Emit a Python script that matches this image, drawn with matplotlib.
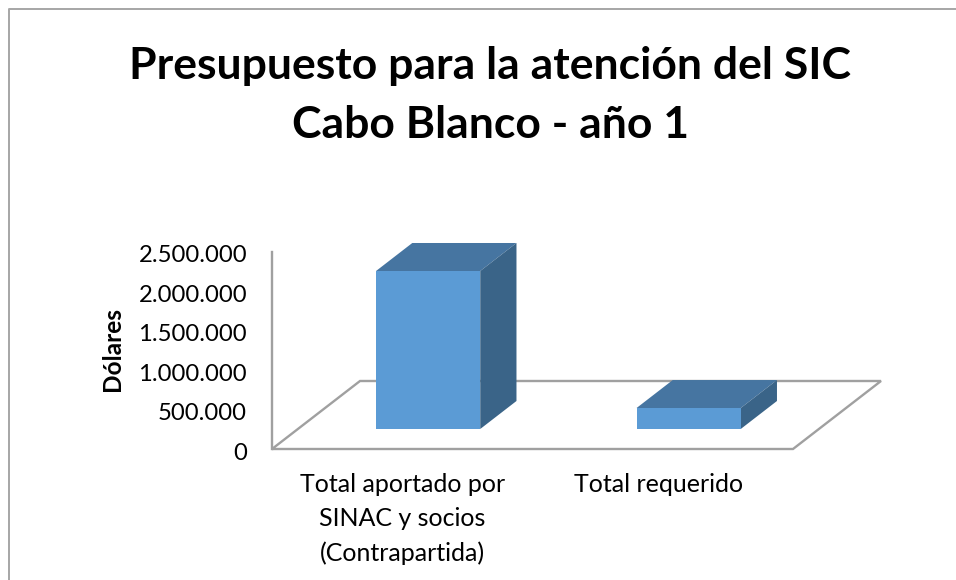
import matplotlib
matplotlib.use("Agg")
from matplotlib import pyplot as plt
from matplotlib.patches import Polygon, Rectangle
from matplotlib.transforms import ScaledTranslation

categorias = ["Total aportado por\nSINAC y socios\n(Contrapartida)", "Total requerido"]
valores = [2005000, 266000]
ticks_y = [0, 500000, 1000000, 1500000, 2000000, 2500000]
ticks_txt = ["0", "500.000", "1.000.000", "1.500.000", "2.000.000", "2.500.000"]
titulo = "Presupuesto para la atención del SIC\nCabo Blanco - año 1"
nombre_y = "Dólares"

W, H = 956, 580
plt.rcParams["font.family"] = ["Lato", "DejaVu Sans"]
fig = plt.figure(figsize=(W / 100, H / 100), dpi=100)

# marco del grafico (solo se ve arriba y a la izquierda)
fig.add_artist(plt.Line2D([9 / W, 9 / W, 1], [0, 1 - 9 / H, 1 - 9 / H], color="#a6a6a6", lw=1.4))

fig.text(490 / W, 1 - 95.5 / H, titulo, ha="center", va="center", fontsize=32, fontweight="bold", linespacing=1.58)

# plano frontal del eje, en pixeles de la figura
ax = fig.add_axes([272 / W, 1 - 449 / H, 521 / W, 197 / H])
ax.set_xlim(0, 2)
ax.set_ylim(0, 2500000)
ax.patch.set_visible(False)
for s in ax.spines.values():
    s.set_visible(False)

# desplazamiento de profundidad en unidades de datos
DX = 88 / 260.5
DY = 68 / 197 * 2500000
P1, P2 = 0.294, 0.706
ANCHO = 0.4

gris = "#a0a0a0"
suelo = [(0, 0), (2, 0), (2 + DX, DY), (DX, DY)]
ax.add_patch(Polygon(suelo, closed=True, fill=False, edgecolor=gris, lw=1.7, clip_on=False))
ax.plot([0, 0], [0, 2500000], color=gris, lw=1.7, clip_on=False)


def barra(centro, v):
    x0 = centro - ANCHO / 2 + DX * P1
    x1 = x0 + ANCHO
    y0 = DY * P1
    px = DX * (P2 - P1)
    py = DY * (P2 - P1)
    ax.add_patch(Polygon([(x0, y0 + v), (x1, y0 + v), (x1 + px, y0 + v + py), (x0 + px, y0 + v + py)],
                         closed=True, facecolor="#4675A1", edgecolor="none", clip_on=False, zorder=3))
    ax.add_patch(Polygon([(x1, y0), (x1 + px, y0 + py), (x1 + px, y0 + v + py), (x1, y0 + v)],
                         closed=True, facecolor="#3A6488", edgecolor="none", clip_on=False, zorder=3))
    ax.add_patch(Rectangle((x0, y0), ANCHO, v, facecolor="#5B9BD5", edgecolor="none", clip_on=False, zorder=4))


pos = [i + 0.5 for i in range(len(valores))]
for c, v in zip(pos, valores):
    barra(c, v)

ax.set_yticks(ticks_y)
ax.set_yticklabels(ticks_txt, fontsize=17.2, va="center_baseline")
ax.set_xticks(pos)
ax.set_xticklabels(categorias, fontsize=18, linespacing=1.58)
ax.tick_params(axis="both", length=0)
ax.tick_params(axis="y", pad=18)
ax.tick_params(axis="x", pad=17)
# la segunda etiqueta va un poco a la izquierda
lab2 = ax.get_xticklabels()[1]
lab2.set_transform(lab2.get_transform() + ScaledTranslation(-4 / 100, 0, fig.dpi_scale_trans))
# los numeros del eje y van 2 px mas abajo
for lab in ax.get_yticklabels():
    lab.set_transform(lab.get_transform() + ScaledTranslation(0, -2 / 100, fig.dpi_scale_trans))
ax.set_ylabel(nombre_y, fontsize=17.6, fontweight="bold")
ax.yaxis.set_label_coords(-0.284, 0.51)

fig.savefig("out.png", dpi=100)
